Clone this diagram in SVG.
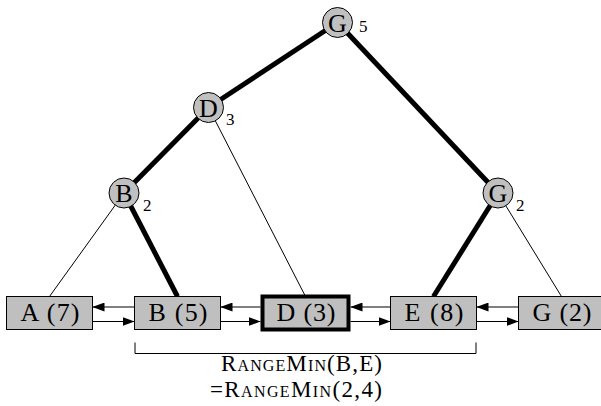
<svg xmlns="http://www.w3.org/2000/svg" width="601" height="406" viewBox="0 0 601 406">
  <defs>
    <marker id="tip" viewBox="0 0 12 9" refX="12" refY="4.5" markerWidth="12" markerHeight="9" markerUnits="userSpaceOnUse" orient="auto">
      <path d="M0,0 L12,4.5 L0,9 Z" fill="#000"/>
    </marker>
    <style>
      .thick { stroke: #000; stroke-width: 5; fill: none; }
      .thin { stroke: #000; stroke-width: 1; fill: none; }
      .link { stroke: #000; stroke-width: 1; fill: none; marker-end: url(#tip); }
      .tnode { fill: #c0c0c0; stroke: #000; stroke-width: 1; }
      .box { fill: #bfbfbf; stroke: #000; stroke-width: 1; }
      .box.hl { stroke-width: 4; }
      .big { font-size: 26px; text-anchor: middle; }
      .sub { font-size: 17px; }
      .cap { font-size: 23px; font-variant: small-caps; text-anchor: end; }
    </style>
  </defs>

  <!-- connectors: tree edges, list links and the range bracket -->
  <g id="connectors">
    <line class="thick" x1="337.5" y1="22.5" x2="208.5" y2="107.5"/>
    <line class="thick" x1="337.5" y1="22.5" x2="498" y2="193"/>
    <line class="thick" x1="208.5" y1="107.5" x2="124" y2="193"/>
    <line class="thick" x1="124" y1="193" x2="177.5" y2="296.5"/>
    <line class="thick" x1="498" y1="193" x2="433.5" y2="296.5"/>
    <line class="thin" x1="208.5" y1="107.5" x2="305.5" y2="296.5"/>
    <line class="thin" x1="124" y1="193" x2="49.5" y2="296.5"/>
    <line class="thin" x1="498" y1="193" x2="561.5" y2="296.5"/>

    <!-- backward links (upper) -->
    <line class="link" x1="134.5" y1="307" x2="92.5" y2="307"/>
    <line class="link" x1="260.5" y1="307" x2="220.5" y2="307"/>
    <line class="link" x1="390.5" y1="307" x2="350.5" y2="307"/>
    <line class="link" x1="518.5" y1="307" x2="476.5" y2="307"/>
    <!-- forward links (lower) -->
    <line class="link" x1="92.5" y1="321.5" x2="134.5" y2="321.5"/>
    <line class="link" x1="220.5" y1="321.5" x2="260.5" y2="321.5"/>
    <line class="link" x1="350.5" y1="321.5" x2="390.5" y2="321.5"/>
    <line class="link" x1="476.5" y1="321.5" x2="518.5" y2="321.5"/>

    <path class="thin" d="M135,342.5 V353.5 H476 V342.5"/>
  </g>

  <g font-family="'Liberation Serif', 'DejaVu Serif', serif" fill="#000">
    <!-- tree nodes -->
    <g id="t-root">
      <circle class="tnode" cx="337.5" cy="22.5" r="15"/>
      <text class="big" x="337.5" y="31.5">G</text>
      <text class="sub" x="359" y="32">5</text>
    </g>
    <g id="t-d">
      <circle class="tnode" cx="208.5" cy="107.5" r="15"/>
      <text class="big" x="208.5" y="116.5">D</text>
      <text class="sub" x="226" y="125">3</text>
    </g>
    <g id="t-b">
      <circle class="tnode" cx="124" cy="193" r="15"/>
      <text class="big" x="124" y="202">B</text>
      <text class="sub" x="143" y="211">2</text>
    </g>
    <g id="t-g">
      <circle class="tnode" cx="498" cy="193" r="15"/>
      <text class="big" x="498" y="202">G</text>
      <text class="sub" x="516" y="211">2</text>
    </g>

    <!-- list cells -->
    <g id="cell-a">
      <rect class="box" x="6.5" y="296.5" width="86" height="33"/>
      <text class="big" x="50" y="321" textLength="59" lengthAdjust="spacing">A (7)</text>
    </g>
    <g id="cell-b">
      <rect class="box" x="134.5" y="296.5" width="86" height="33"/>
      <text class="big" x="178" y="321" textLength="59" lengthAdjust="spacing">B (5)</text>
    </g>
    <g id="cell-d">
      <rect class="box hl" x="262.5" y="296.5" width="86" height="33"/>
      <text class="big" x="306" y="321" textLength="59" lengthAdjust="spacing">D (3)</text>
    </g>
    <g id="cell-e">
      <rect class="box" x="390.5" y="296.5" width="86" height="33"/>
      <text class="big" x="434" y="321" textLength="59" lengthAdjust="spacing">E (8)</text>
    </g>
    <g id="cell-g">
      <rect class="box" x="518.5" y="296.5" width="86" height="33"/>
      <text class="big" x="562" y="321" textLength="59" lengthAdjust="spacing">G (2)</text>
    </g>

    <!-- range caption -->
    <g id="caption">
      <text class="cap" x="382" y="371" textLength="161" lengthAdjust="spacing">RangeMin(B,E)</text>
      <text class="cap" x="382" y="397" textLength="172" lengthAdjust="spacing">=RangeMin(2,4)</text>
    </g>
  </g>
</svg>
